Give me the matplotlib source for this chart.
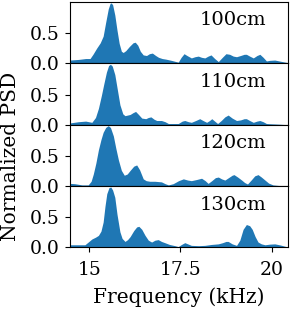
import matplotlib
matplotlib.use('Agg')
import matplotlib.pyplot as plt

# PSD readings per distance (frequency in kHz, normalized PSD)
freq_100 = [14.47, 14.7, 14.9, 15.02, 15.1, 15.2, 15.3, 15.38, 15.45, 15.52, 15.57,
            15.6, 15.64, 15.7, 15.76, 15.82, 15.88, 15.93, 16.0, 16.1, 16.2,
            16.26, 16.33, 16.4, 16.48, 16.57, 16.65, 16.73, 16.82, 16.9, 17.0,
            17.1, 17.25, 17.44, 17.52, 17.6, 17.68, 17.8, 17.9, 17.99, 18.08,
            18.17, 18.26, 18.34, 18.44, 18.54, 18.65, 18.75, 18.85, 18.95, 19.04,
            19.15, 19.25, 19.31, 19.4, 19.5, 19.6, 19.68, 19.77, 19.86, 19.95,
            20.09, 20.25, 20.46]
psd_100 = [0.055, 0.065, 0.08, 0.08, 0.15, 0.25, 0.34, 0.45, 0.68, 0.9, 0.99,
           1.0, 0.97, 0.8, 0.55, 0.33, 0.2, 0.18, 0.21, 0.28, 0.34,
           0.35, 0.3, 0.2, 0.14, 0.13, 0.16, 0.17, 0.13, 0.1, 0.08,
           0.07, 0.05, 0.02, 0.1, 0.16, 0.13, 0.09, 0.11, 0.12, 0.1,
           0.09, 0.12, 0.14, 0.08, 0.03, 0.1, 0.16, 0.15, 0.12, 0.11,
           0.13, 0.15, 0.15, 0.12, 0.09, 0.13, 0.15, 0.1, 0.04, 0.05,
           0.055, 0.035, 0.01]

freq_110 = [14.47, 14.7, 14.9, 15.07, 15.17, 15.25, 15.33, 15.4, 15.47, 15.53, 15.58,
            15.63, 15.7, 15.77, 15.84, 15.92, 15.98, 16.05, 16.12, 16.2, 16.27,
            16.35, 16.44, 16.55, 16.62, 16.69, 16.78, 16.85, 16.98, 17.08, 17.17,
            17.44, 17.55, 17.62, 17.72, 17.8, 17.92, 18.03, 18.12, 18.22, 18.3,
            18.36, 18.44, 18.52, 18.62, 18.72, 18.81, 18.92, 19.04, 19.15, 19.25,
            19.31, 19.4, 19.5, 19.6, 19.68, 19.77, 19.86, 20.0, 20.18, 20.46]
psd_110 = [0.03, 0.05, 0.06, 0.04, 0.12, 0.27, 0.48, 0.68, 0.87, 0.98, 1.0,
           0.97, 0.83, 0.58, 0.33, 0.18, 0.15, 0.16, 0.17, 0.2, 0.22,
           0.17, 0.11, 0.1, 0.12, 0.13, 0.09, 0.07, 0.07, 0.05, 0.02,
           0.02, 0.06, 0.07, 0.05, 0.04, 0.07, 0.1, 0.07, 0.04, 0.07,
           0.1, 0.06, 0.02, 0.07, 0.13, 0.16, 0.11, 0.07, 0.08, 0.1,
           0.1, 0.07, 0.04, 0.06, 0.07, 0.05, 0.02, 0.015, 0.01, 0.0]

freq_120 = [14.47, 14.6, 14.8, 14.97, 15.05, 15.11, 15.18, 15.25, 15.32, 15.38, 15.45,
            15.52, 15.58, 15.66, 15.73, 15.8, 15.88, 15.96, 16.04, 16.12, 16.22,
            16.3, 16.38, 16.48, 16.56, 16.66, 16.8, 16.98, 17.08, 17.17, 17.3,
            17.45, 17.58, 17.7, 17.8, 17.95, 18.08, 18.18, 18.26, 18.36, 18.46,
            18.54, 18.63, 18.72, 18.82, 18.92, 18.97, 19.07, 19.18, 19.26, 19.34,
            19.44, 19.54, 19.63, 19.72, 19.82, 19.92, 20.04, 20.2, 20.46]
psd_120 = [0.045, 0.04, 0.02, 0.02, 0.08, 0.2, 0.38, 0.6, 0.77, 0.89, 0.97,
           1.0, 0.97, 0.83, 0.62, 0.43, 0.26, 0.18, 0.2, 0.26, 0.33,
           0.35, 0.27, 0.12, 0.09, 0.08, 0.08, 0.07, 0.04, 0.02, 0.04,
           0.09, 0.12, 0.1, 0.09, 0.11, 0.13, 0.09, 0.045, 0.09, 0.14,
           0.15, 0.12, 0.1, 0.14, 0.18, 0.19, 0.15, 0.1, 0.06, 0.035,
           0.1, 0.17, 0.19, 0.15, 0.1, 0.05, 0.02, 0.01, 0.005]

freq_130 = [14.47, 14.7, 14.88, 14.97, 15.07, 15.17, 15.25, 15.32, 15.38, 15.43, 15.48,
            15.54, 15.59, 15.64, 15.7, 15.76, 15.84, 15.9, 15.98, 16.05, 16.12,
            16.22, 16.3, 16.36, 16.44, 16.53, 16.62, 16.71, 16.8, 16.89, 16.98,
            17.07, 17.2, 17.35, 17.44, 17.53, 17.62, 17.7, 17.8, 18.0, 18.17,
            18.35, 18.54, 18.66, 18.75, 18.81, 18.92, 19.04, 19.13, 19.22, 19.31,
            19.4, 19.47, 19.55, 19.63, 19.72, 19.82, 19.95, 20.09, 20.25, 20.46]
psd_130 = [0.045, 0.045, 0.045, 0.09, 0.14, 0.17, 0.2, 0.27, 0.42, 0.68, 0.89,
           0.99, 1.0, 0.95, 0.83, 0.55, 0.26, 0.15, 0.1, 0.13, 0.18,
           0.28, 0.34, 0.35, 0.3, 0.2, 0.12, 0.09, 0.12, 0.13, 0.1,
           0.08, 0.05, 0.03, 0.015, 0.05, 0.08, 0.06, 0.035, 0.03, 0.035,
           0.05, 0.06, 0.08, 0.1, 0.1, 0.06, 0.035, 0.12, 0.3, 0.38,
           0.36, 0.3, 0.18, 0.09, 0.06, 0.045, 0.055, 0.06, 0.04, 0.005]

labels = ['100cm', '110cm', '120cm', '130cm']
series = [(freq_100, psd_100), (freq_110, psd_110),
          (freq_120, psd_120), (freq_130, psd_130)]

plt.rcParams['font.family'] = ['DejaVu Serif']
plt.rcParams['font.size'] = 13.5

fig, axes = plt.subplots(4, 1, sharex=True, figsize=(2.91, 3.13), dpi=100)
fig.subplots_adjust(left=0.2405, right=0.9907, top=0.9936, bottom=0.2093,
                    hspace=0)

for ax, label, (freq, psd) in zip(axes, labels, series):
    ax.fill_between(freq, psd, 0, color='#1f77b4', linewidth=0)
    ax.set_ylim(0, 1.015)
    ax.set_yticks([0.0, 0.5])
    ax.set_xlim(14.47, 20.46)
    ax.text(0.9, 0.7, label, transform=ax.transAxes, ha='right', va='center',
            fontsize=14)
    ax.tick_params(length=3.5, width=0.8, pad=4)

axes[-1].set_xticks([15, 17.5, 20])
axes[-1].set_xticklabels(['15', '17.5', '20'])
axes[-1].tick_params(axis='x', pad=6)
axes[-1].set_xlabel('Frequency (kHz)', fontsize=14.5, labelpad=6)
fig.text(0.035, 0.5, 'Normalized PSD', rotation=90, ha='center', va='center',
         fontsize=14.5)

plt.savefig('out.png', dpi=100)
